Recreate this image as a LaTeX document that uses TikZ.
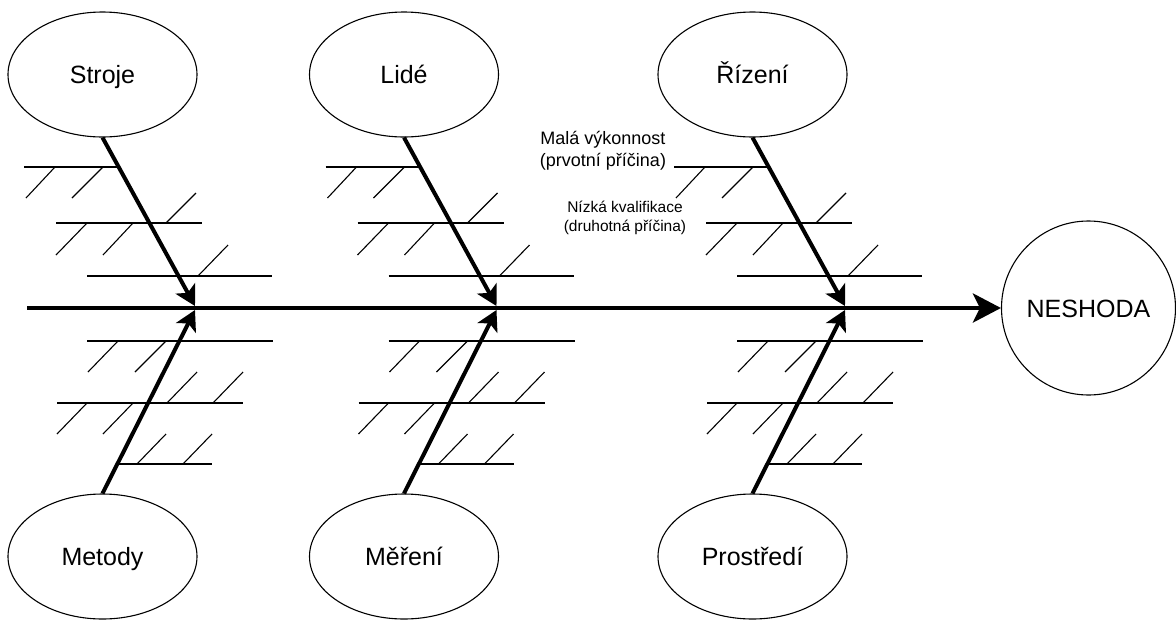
\documentclass[tikz,border=0pt]{standalone}
\usepackage{fontspec}
\setmainfont{Liberation Sans}
\usetikzlibrary{arrows.meta,shapes.geometric}

\begin{document}
\begin{tikzpicture}[x=1pt,y=-1pt,
  cause/.style={draw,ellipse,line width=1.1pt,minimum width=189pt,minimum height=125pt,
    inner sep=0pt,text height=18pt,text depth=0pt,font=\fontsize{25}{30}\selectfont},
  effect/.style={draw,circle,line width=1.1pt,minimum size=174pt,inner sep=0pt,
    text height=18pt,text depth=0pt,font=\fontsize{25}{30}\selectfont},
  spine/.style={line width=4.5pt,-{Stealth[length=28pt,width=29pt,inset=7pt]}},
  bone/.style={line width=4pt,-{Stealth[length=20pt,width=22pt,inset=5pt]}},
  branch/.style={line width=2.5pt},
  hatch/.style={line width=1.1pt},
  note/.style={align=center,inner sep=0pt}]
\useasboundingbox (0,0) rectangle (1176,619);

% effect and spine
\node[effect] (ne) at (1088.5,308) {NESHODA};
\coordinate (start) at (27,308);
\draw[spine] (start) -- (ne.west);

% three pairs of cause categories along the spine
\foreach \dx/\up/\down/\i in {0/Stroje/Metody/1, 301.5/Lidé/Měření/2, 650/Řízení/Prostředí/3}{
  \begin{scope}[xshift=\dx pt]
    % upper category
    \draw[branch] (24,167) -- (119,167);
    \draw[branch] (56,223) -- (202,223);
    \draw[branch] (87,276) -- (272,276);
    \draw[hatch] (55,167) -- (26,198);  \draw[hatch] (103,167) -- (72,198);
    \draw[hatch] (87,223) -- (56,255);  \draw[hatch] (133,223) -- (103,255);
    \draw[hatch] (166,223) -- (196,193);
    \draw[hatch] (198,276) -- (228,245);
    \node[cause] (top\i) at (102.5,74.5) {\up};
    \coordinate (jt\i) at (195,306);
    \draw[bone] (top\i.south) -- (jt\i);
    % lower category
    \draw[branch] (87,341) -- (273,341);
    \draw[branch] (57,403) -- (243,403);
    \draw[branch] (118,464) -- (212,464);
    \draw[hatch] (118,341) -- (88,372);  \draw[hatch] (166,341) -- (135,372);
    \draw[hatch] (167,403) -- (197,372); \draw[hatch] (213,403) -- (243,372);
    \draw[hatch] (87,403) -- (57,434);   \draw[hatch] (133,403) -- (103,434);
    \draw[hatch] (137,464) -- (166,434); \draw[hatch] (183,464) -- (212,434);
    \node[cause] (bot\i) at (102.5,556.5) {\down};
    \coordinate (jb\i) at (195,310);
    \draw[bone] (bot\i.north) -- (jb\i);
  \end{scope}
}

% explanatory notes
\node[note,font=\fontsize{18}{22}\selectfont] (n1) at (603,151) {Malá výkonnost\\(prvotní příčina)};
\node[note,font=\fontsize{15.5}{19}\selectfont] (n2) at (625,217.5) {Nízká kvalifikace\\(druhotná příčina)};
\end{tikzpicture}
\end{document}
